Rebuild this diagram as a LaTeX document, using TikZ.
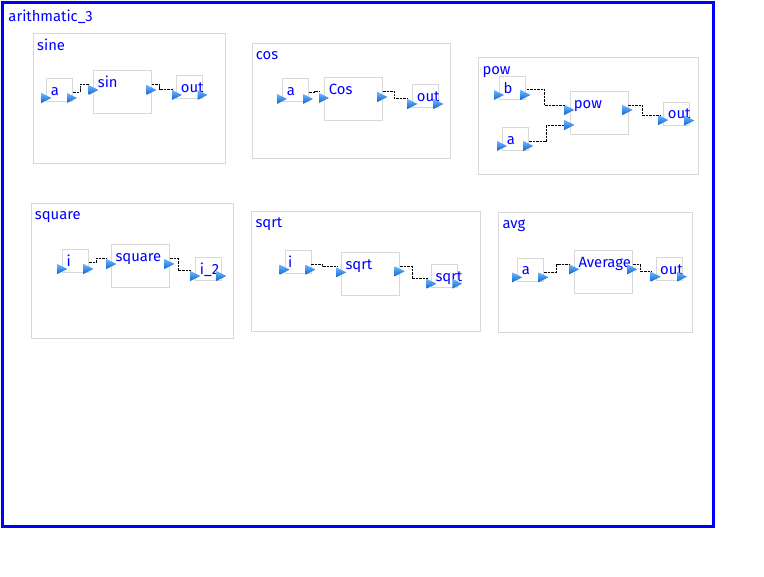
\documentclass[tikz,border=0pt]{standalone}
\usepackage{fontspec}
\setmainfont{Fira Sans}
\definecolor{lblue}{RGB}{0,0,255}
\definecolor{boxgray}{RGB}{216,216,216}
\definecolor{porttop}{RGB}{110,185,255}
\definecolor{portbot}{RGB}{15,100,210}
\newcommand\mkport[3]{\coordinate (#1) at (#2,#3);
  \shade[portshade, shift={(#1)}] (-5,-5) -- (5,0) -- (-5,5) -- cycle;}
\begin{document}
\begin{tikzpicture}[x=1pt, y=-1pt,
  grp/.style={draw=boxgray, line width=1pt, inner sep=0pt, anchor=north west},
  blk/.style={draw=boxgray, line width=1pt, inner sep=0pt, anchor=north west},
  small/.style={blk, minimum width=26pt, minimum height=23pt},
  big/.style={blk, minimum width=58pt, minimum height=43pt},
  lbl/.style={text=lblue, font=\fontsize{14.8}{17}\selectfont, inner sep=0pt, anchor=base west},
  wire/.style={draw=black, line width=0.9pt, dash pattern=on 2.5pt off 1pt},
  portshade/.style={top color=porttop, bottom color=portbot}]
\useasboundingbox (0,0) rectangle (764,577);
% outer frame
\node[draw=lblue, line width=2.7pt, inner sep=0pt, anchor=north west,
      minimum width=711pt, minimum height=523.7pt] (frame) at (1.3,1.3) {};
\node[lbl] (frame-t) at (8.3,21.7) {arithmatic\_3};

% ---------- sine ----------
\node[grp, minimum width=191.7pt, minimum height=130pt] (gsine) at (33.3,33.3) {};
\node[lbl] (gsine-t) at (37,50.7) {sine};
\node[small] (sa) at (46,78) {};
\node[lbl] (sa-t) at (50.7,95.7) {a};
\node[big] (ss) at (93,70) {};
\node[lbl] (ss-t) at (97.7,87.3) {sin};
\node[small] (so) at (176,75) {};
\node[lbl] (so-t) at (180.7,92.7) {out};
\mkport{sa-i}{46.5}{98}\mkport{sa-o}{72}{98}
\mkport{ss-i}{93.5}{90}\mkport{ss-o}{151.5}{90}
\mkport{so-i}{177}{95}\mkport{so-o}{202.5}{95}
\draw[wire] ([shift={(1.3,-5.7)}]sa-o) -| (80,88) |- ([shift={(-4.2,-6)}]ss-i);
\draw[wire] ([shift={(0.2,-6)}]ss-o) -| (159,86) |- ([shift={(-3.5,-5.7)}]so-i);

% ---------- cos ----------
\node[grp, minimum width=198.3pt, minimum height=115.6pt] (gcos) at (251.7,42.7) {};
\node[lbl] (gcos-t) at (255.7,60) {cos};
\node[small] (ca) at (282.3,78.3) {};
\node[lbl] (ca-t) at (286.7,96) {a};
\node[big] (cc) at (324,77) {};
\node[lbl] (cc-t) at (328.7,95) {Cos};
\node[small] (co) at (412.3,84.3) {};
\node[lbl] (co-t) at (416.7,102) {out};
\mkport{ca-i}{282}{99}\mkport{ca-o}{308}{99}
\mkport{cc-i}{324}{98}\mkport{cc-o}{382.5}{97}
\mkport{co-i}{412.5}{104}\mkport{co-o}{438.5}{104}
\draw[wire] ([shift={(1,-7)}]ca-o) -| (314,91.5) |- ([shift={(-4,-7)}]cc-i);
\draw[wire] ([shift={(0.5,-6)}]cc-o) -| (394,95) |- ([shift={(-4.5,-5.3)}]co-i);

% ---------- pow ----------
\node[grp, minimum width=220pt, minimum height=117.3pt] (gpow) at (478.3,56.7) {};
\node[lbl] (gpow-t) at (482.3,74.3) {pow};
\node[small] (pb) at (499.3,75.7) {};
\node[lbl] (pb-t) at (503.3,93.3) {b};
\node[small] (pa) at (502.3,127.3) {};
\node[lbl] (pa-t) at (506.7,144.3) {a};
\node[big] (pp) at (569.7,91) {};
\node[lbl] (pp-t) at (573.7,108.3) {pow};
\node[small] (po) at (663.3,101.7) {};
\node[lbl] (po-t) at (667.7,119) {out};
\mkport{pb-i}{499}{95}\mkport{pb-o}{525.5}{95}
\mkport{pa-i}{502}{146}\mkport{pa-o}{528.3}{146}
\mkport{pp-i1}{569.5}{110}\mkport{pp-i2}{569.5}{125}
\mkport{pp-o}{627.7}{110}
\mkport{po-i}{663.3}{120}\mkport{po-o}{689.3}{120.5}
\draw[wire] ([shift={(1.2,-6)}]pb-o) -| (544.3,97) |- ([shift={(-4.5,-4.3)}]pp-i1);
\draw[wire] ([shift={(1,-4.3)}]pa-o) -| (546.7,133) |- ([shift={(-5.2,0)}]pp-i2);
\draw[wire] ([shift={(0.6,-5)}]pp-o) -| (642.3,110) |- ([shift={(-3.3,-4.3)}]po-i);

% ---------- square ----------
\node[grp, minimum width=202.3pt, minimum height=134.4pt] (gsq) at (30.7,203.3) {};
\node[lbl] (gsq-t) at (34.7,220) {square};
\node[small] (qi) at (62.3,249.3) {};
\node[lbl] (qi-t) at (66.3,266.7) {i};
\node[big] (qs) at (111.3,244.3) {};
\node[lbl] (qs-t) at (115.3,261.7) {square};
\node[small] (qo) at (195.3,256.7) {};
\node[lbl] (qo-t) at (199.7,275) {i\_2};
\mkport{qi-i}{62.3}{269}\mkport{qi-o}{88.5}{269}
\mkport{qs-i}{111.3}{264}\mkport{qs-o}{169.5}{264}
\mkport{qo-i}{195.3}{276}\mkport{qo-o}{221.3}{276}
\draw[wire] ([shift={(0.5,-6.3)}]qi-o) -| (96.3,260) |- ([shift={(-4.3,-5.7)}]qs-i);
\draw[wire] ([shift={(0.8,-5.7)}]qs-o) -| (178,264) |- ([shift={(-4,-5.3)}]qo-i);

% ---------- sqrt ----------
\node[grp, minimum width=228.4pt, minimum height=120pt] (gsqrt) at (251.3,211.3) {};
\node[lbl] (gsqrt-t) at (255.3,228) {sqrt};
\node[small] (ri) at (284.7,250.3) {};
\node[lbl] (ri-t) at (288,268) {i};
\node[big] (rs) at (341.3,252.3) {};
\node[lbl] (rs-t) at (345.3,269.7) {sqrt};
\node[small] (ro) at (431.3,264) {};
\node[lbl] (ro-t) at (435.3,282) {sqrt};
\mkport{ri-i}{284.7}{269.7}\mkport{ri-o}{310.5}{269.7}
\mkport{rs-i}{341.3}{272.3}\mkport{rs-o}{399.7}{271.3}
\mkport{ro-i}{431.5}{283.7}\mkport{ro-o}{457.3}{283.7}
\draw[wire] ([shift={(0.8,-5.7)}]ri-o) -| (322,265) |- ([shift={(-4,-6)}]rs-i);
\draw[wire] ([shift={(0.6,-5)}]rs-o) -| (412,272) |- ([shift={(-3.5,-5)}]ro-i);

% ---------- avg ----------
\node[grp, minimum width=193.4pt, minimum height=120pt] (gavg) at (498.3,212) {};
\node[lbl] (gavg-t) at (502.3,229) {avg};
\node[small] (va) at (517.3,258) {};
\node[lbl] (va-t) at (521.7,274.7) {a};
\node[big] (vv) at (574.3,250.3) {};
\node[lbl] (vv-t) at (578.3,267.3) {Average};
\node[small] (vo) at (655.7,257.3) {};
\node[lbl] (vo-t) at (660,274.7) {out};
\mkport{va-i}{517.3}{277.3}\mkport{va-o}{543.5}{277.3}
\mkport{vv-i}{574.3}{269.3}\mkport{vv-o}{632.3}{269.3}
\mkport{vo-i}{655.7}{276.7}\mkport{vo-o}{682}{276.7}
\draw[wire] ([shift={(0.8,-5.3)}]va-o) -| (556.7,268) |- ([shift={(-4.3,-4.6)}]vv-i);
\draw[wire] ([shift={(1,-4.6)}]vv-o) -| (640.7,268) |- ([shift={(-4,-5.4)}]vo-i);
\end{tikzpicture}
\end{document}
